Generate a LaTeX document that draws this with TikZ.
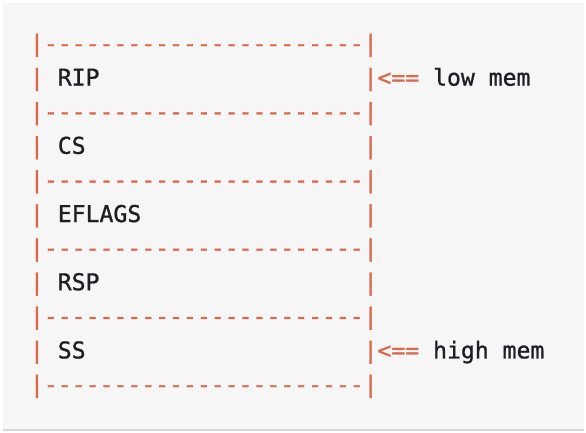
\documentclass[tikz,border=0pt]{standalone}
\usepackage{fontspec}
\newfontfamily\asciifont{DejaVu Sans Mono}[Ligatures=TeXOff,FakeBold=1]
\definecolor{stackRust}{HTML}{DA684B}
\definecolor{stackInk}{HTML}{1E1E24}
\definecolor{stackPaper}{HTML}{F6F6F6}
\definecolor{stackEdge}{HTML}{D8D8D8}
\tikzset{
  stack diagram/.style={
    x=13.9pt, y=-34.1pt,
    every node/.style={font=\asciifont\fontsize{23.1}{34}\selectfont,
      anchor=base west, inner sep=0pt, outer sep=0pt}
  },
  stack mark/.style={text=stackRust},
  stack text/.style={text=stackInk}
}

\begin{document}
\begin{tikzpicture}[stack diagram]
    \useasboundingbox (-30pt,51.5pt) rectangle (556pt,-380.5pt);
    \fill[stackPaper] (-27pt,48.5pt) rectangle (554pt,-377.5pt);
    \draw[stackEdge,line width=2pt] (-27pt,-378.5pt) -- (554pt,-378.5pt);
    % separators between the slots
    \foreach \r [count=\k from 0] in {0,2,...,10}
      \node[stack mark] (rule\k) at (0,\r) {|-----------------------|};
    % the five saved registers
    \foreach \reg/\r in {RIP/1,CS/3,EFLAGS/5,RSP/7,SS/9} {
      \node[stack mark] (left\r) at (0,\r) {|};
      \node[stack text] (\reg) at (2,\r) {\reg};
      \node[stack mark] (right\r) at (24,\r) {|};
    }
    \node[stack mark] (lowarrow) at (25,1) {<==};
    \node[stack text] (lowmem) at (29,1) {low mem};
    \node[stack mark] (higharrow) at (25,9) {<==};
    \node[stack text] (highmem) at (29,9) {high mem};
\end{tikzpicture}
\end{document}
